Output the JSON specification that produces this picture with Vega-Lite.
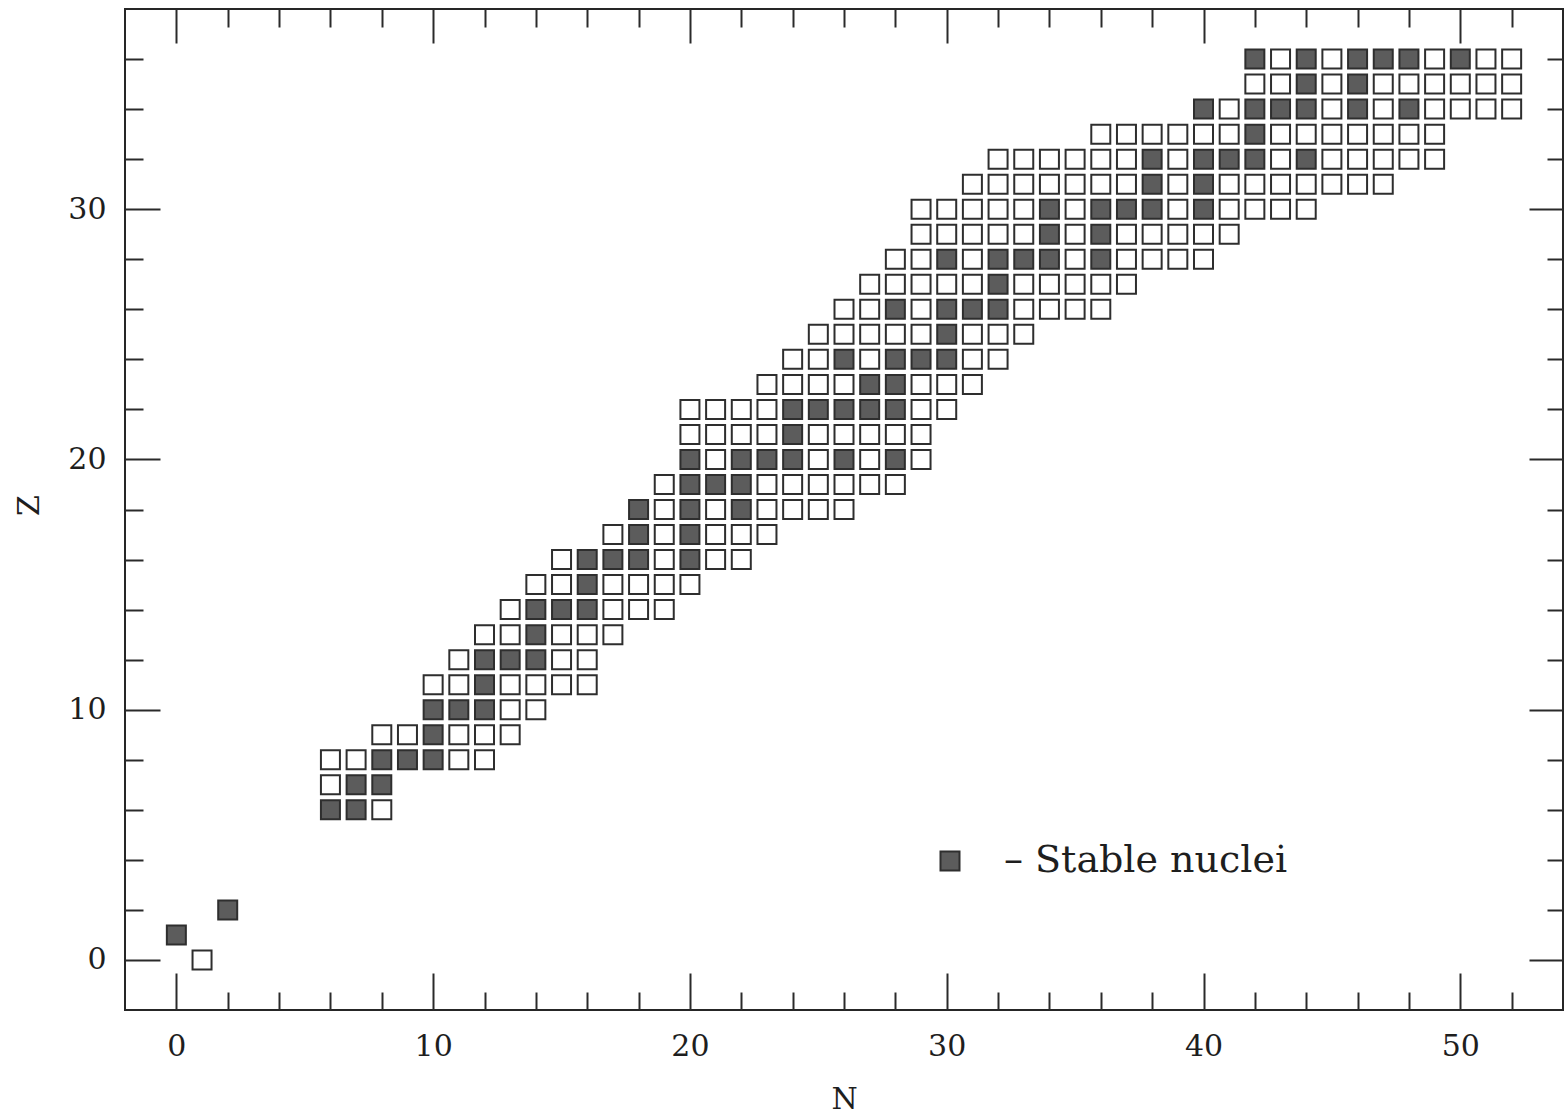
{
  "$schema": "https://vega.github.io/schema/vega-lite/v6.json",
  "width": 1438,
  "height": 1001,
  "autosize": {"type": "none"},
  "padding": {"left": 125, "top": 9, "right": 1, "bottom": 106},
  "background": "white",
  "config": {
    "view": {"stroke": "#262626", "strokeWidth": 2},
    "font": "DejaVu Serif",
    "axis": {"grid": false, "domain": false, "tickColor": "#2a2a2a", "tickWidth": 2, "labelColor": "#1e1e1e", "titleColor": "#1e1e1e", "labelFont": "DejaVu Serif", "titleFont": "DejaVu Serif", "labelFontSize": 30, "titleFontSize": 30, "titleFontWeight": "normal", "labelOverlap": false, "labelFlush": false}
  },
  "data": {
    "values": [
      {"N": 1, "Z": 0, "stable": "no"},
      {"N": 0, "Z": 1, "stable": "yes"},
      {"N": 2, "Z": 2, "stable": "yes"},
      {"N": 6, "Z": 6, "stable": "yes"}, {"N": 7, "Z": 6, "stable": "yes"}, {"N": 8, "Z": 6, "stable": "no"},
      {"N": 6, "Z": 7, "stable": "no"}, {"N": 7, "Z": 7, "stable": "yes"}, {"N": 8, "Z": 7, "stable": "yes"},
      {"N": 6, "Z": 8, "stable": "no"}, {"N": 7, "Z": 8, "stable": "no"}, {"N": 8, "Z": 8, "stable": "yes"}, {"N": 9, "Z": 8, "stable": "yes"}, {"N": 10, "Z": 8, "stable": "yes"}, {"N": 11, "Z": 8, "stable": "no"}, {"N": 12, "Z": 8, "stable": "no"},
      {"N": 8, "Z": 9, "stable": "no"}, {"N": 9, "Z": 9, "stable": "no"}, {"N": 10, "Z": 9, "stable": "yes"}, {"N": 11, "Z": 9, "stable": "no"}, {"N": 12, "Z": 9, "stable": "no"}, {"N": 13, "Z": 9, "stable": "no"},
      {"N": 10, "Z": 10, "stable": "yes"}, {"N": 11, "Z": 10, "stable": "yes"}, {"N": 12, "Z": 10, "stable": "yes"}, {"N": 13, "Z": 10, "stable": "no"}, {"N": 14, "Z": 10, "stable": "no"},
      {"N": 10, "Z": 11, "stable": "no"}, {"N": 11, "Z": 11, "stable": "no"}, {"N": 12, "Z": 11, "stable": "yes"}, {"N": 13, "Z": 11, "stable": "no"}, {"N": 14, "Z": 11, "stable": "no"}, {"N": 15, "Z": 11, "stable": "no"}, {"N": 16, "Z": 11, "stable": "no"},
      {"N": 11, "Z": 12, "stable": "no"}, {"N": 12, "Z": 12, "stable": "yes"}, {"N": 13, "Z": 12, "stable": "yes"}, {"N": 14, "Z": 12, "stable": "yes"}, {"N": 15, "Z": 12, "stable": "no"}, {"N": 16, "Z": 12, "stable": "no"},
      {"N": 12, "Z": 13, "stable": "no"}, {"N": 13, "Z": 13, "stable": "no"}, {"N": 14, "Z": 13, "stable": "yes"}, {"N": 15, "Z": 13, "stable": "no"}, {"N": 16, "Z": 13, "stable": "no"}, {"N": 17, "Z": 13, "stable": "no"},
      {"N": 13, "Z": 14, "stable": "no"}, {"N": 14, "Z": 14, "stable": "yes"}, {"N": 15, "Z": 14, "stable": "yes"}, {"N": 16, "Z": 14, "stable": "yes"}, {"N": 17, "Z": 14, "stable": "no"}, {"N": 18, "Z": 14, "stable": "no"}, {"N": 19, "Z": 14, "stable": "no"},
      {"N": 14, "Z": 15, "stable": "no"}, {"N": 15, "Z": 15, "stable": "no"}, {"N": 16, "Z": 15, "stable": "yes"}, {"N": 17, "Z": 15, "stable": "no"}, {"N": 18, "Z": 15, "stable": "no"}, {"N": 19, "Z": 15, "stable": "no"}, {"N": 20, "Z": 15, "stable": "no"},
      {"N": 15, "Z": 16, "stable": "no"}, {"N": 16, "Z": 16, "stable": "yes"}, {"N": 17, "Z": 16, "stable": "yes"}, {"N": 18, "Z": 16, "stable": "yes"}, {"N": 19, "Z": 16, "stable": "no"}, {"N": 20, "Z": 16, "stable": "yes"}, {"N": 21, "Z": 16, "stable": "no"}, {"N": 22, "Z": 16, "stable": "no"},
      {"N": 17, "Z": 17, "stable": "no"}, {"N": 18, "Z": 17, "stable": "yes"}, {"N": 19, "Z": 17, "stable": "no"}, {"N": 20, "Z": 17, "stable": "yes"}, {"N": 21, "Z": 17, "stable": "no"}, {"N": 22, "Z": 17, "stable": "no"}, {"N": 23, "Z": 17, "stable": "no"},
      {"N": 18, "Z": 18, "stable": "yes"}, {"N": 19, "Z": 18, "stable": "no"}, {"N": 20, "Z": 18, "stable": "yes"}, {"N": 21, "Z": 18, "stable": "no"}, {"N": 22, "Z": 18, "stable": "yes"}, {"N": 23, "Z": 18, "stable": "no"}, {"N": 24, "Z": 18, "stable": "no"}, {"N": 25, "Z": 18, "stable": "no"}, {"N": 26, "Z": 18, "stable": "no"},
      {"N": 19, "Z": 19, "stable": "no"}, {"N": 20, "Z": 19, "stable": "yes"}, {"N": 21, "Z": 19, "stable": "yes"}, {"N": 22, "Z": 19, "stable": "yes"}, {"N": 23, "Z": 19, "stable": "no"}, {"N": 24, "Z": 19, "stable": "no"}, {"N": 25, "Z": 19, "stable": "no"}, {"N": 26, "Z": 19, "stable": "no"}, {"N": 27, "Z": 19, "stable": "no"}, {"N": 28, "Z": 19, "stable": "no"},
      {"N": 20, "Z": 20, "stable": "yes"}, {"N": 21, "Z": 20, "stable": "no"}, {"N": 22, "Z": 20, "stable": "yes"}, {"N": 23, "Z": 20, "stable": "yes"}, {"N": 24, "Z": 20, "stable": "yes"}, {"N": 25, "Z": 20, "stable": "no"}, {"N": 26, "Z": 20, "stable": "yes"}, {"N": 27, "Z": 20, "stable": "no"}, {"N": 28, "Z": 20, "stable": "yes"}, {"N": 29, "Z": 20, "stable": "no"},
      {"N": 20, "Z": 21, "stable": "no"}, {"N": 21, "Z": 21, "stable": "no"}, {"N": 22, "Z": 21, "stable": "no"}, {"N": 23, "Z": 21, "stable": "no"}, {"N": 24, "Z": 21, "stable": "yes"}, {"N": 25, "Z": 21, "stable": "no"}, {"N": 26, "Z": 21, "stable": "no"}, {"N": 27, "Z": 21, "stable": "no"}, {"N": 28, "Z": 21, "stable": "no"}, {"N": 29, "Z": 21, "stable": "no"},
      {"N": 20, "Z": 22, "stable": "no"}, {"N": 21, "Z": 22, "stable": "no"}, {"N": 22, "Z": 22, "stable": "no"}, {"N": 23, "Z": 22, "stable": "no"}, {"N": 24, "Z": 22, "stable": "yes"}, {"N": 25, "Z": 22, "stable": "yes"}, {"N": 26, "Z": 22, "stable": "yes"}, {"N": 27, "Z": 22, "stable": "yes"}, {"N": 28, "Z": 22, "stable": "yes"}, {"N": 29, "Z": 22, "stable": "no"}, {"N": 30, "Z": 22, "stable": "no"},
      {"N": 23, "Z": 23, "stable": "no"}, {"N": 24, "Z": 23, "stable": "no"}, {"N": 25, "Z": 23, "stable": "no"}, {"N": 26, "Z": 23, "stable": "no"}, {"N": 27, "Z": 23, "stable": "yes"}, {"N": 28, "Z": 23, "stable": "yes"}, {"N": 29, "Z": 23, "stable": "no"}, {"N": 30, "Z": 23, "stable": "no"}, {"N": 31, "Z": 23, "stable": "no"},
      {"N": 24, "Z": 24, "stable": "no"}, {"N": 25, "Z": 24, "stable": "no"}, {"N": 26, "Z": 24, "stable": "yes"}, {"N": 27, "Z": 24, "stable": "no"}, {"N": 28, "Z": 24, "stable": "yes"}, {"N": 29, "Z": 24, "stable": "yes"}, {"N": 30, "Z": 24, "stable": "yes"}, {"N": 31, "Z": 24, "stable": "no"}, {"N": 32, "Z": 24, "stable": "no"},
      {"N": 25, "Z": 25, "stable": "no"}, {"N": 26, "Z": 25, "stable": "no"}, {"N": 27, "Z": 25, "stable": "no"}, {"N": 28, "Z": 25, "stable": "no"}, {"N": 29, "Z": 25, "stable": "no"}, {"N": 30, "Z": 25, "stable": "yes"}, {"N": 31, "Z": 25, "stable": "no"}, {"N": 32, "Z": 25, "stable": "no"}, {"N": 33, "Z": 25, "stable": "no"},
      {"N": 26, "Z": 26, "stable": "no"}, {"N": 27, "Z": 26, "stable": "no"}, {"N": 28, "Z": 26, "stable": "yes"}, {"N": 29, "Z": 26, "stable": "no"}, {"N": 30, "Z": 26, "stable": "yes"}, {"N": 31, "Z": 26, "stable": "yes"}, {"N": 32, "Z": 26, "stable": "yes"}, {"N": 33, "Z": 26, "stable": "no"}, {"N": 34, "Z": 26, "stable": "no"}, {"N": 35, "Z": 26, "stable": "no"}, {"N": 36, "Z": 26, "stable": "no"},
      {"N": 27, "Z": 27, "stable": "no"}, {"N": 28, "Z": 27, "stable": "no"}, {"N": 29, "Z": 27, "stable": "no"}, {"N": 30, "Z": 27, "stable": "no"}, {"N": 31, "Z": 27, "stable": "no"}, {"N": 32, "Z": 27, "stable": "yes"}, {"N": 33, "Z": 27, "stable": "no"}, {"N": 34, "Z": 27, "stable": "no"}, {"N": 35, "Z": 27, "stable": "no"}, {"N": 36, "Z": 27, "stable": "no"}, {"N": 37, "Z": 27, "stable": "no"},
      {"N": 28, "Z": 28, "stable": "no"}, {"N": 29, "Z": 28, "stable": "no"}, {"N": 30, "Z": 28, "stable": "yes"}, {"N": 31, "Z": 28, "stable": "no"}, {"N": 32, "Z": 28, "stable": "yes"}, {"N": 33, "Z": 28, "stable": "yes"}, {"N": 34, "Z": 28, "stable": "yes"}, {"N": 35, "Z": 28, "stable": "no"}, {"N": 36, "Z": 28, "stable": "yes"}, {"N": 37, "Z": 28, "stable": "no"}, {"N": 38, "Z": 28, "stable": "no"}, {"N": 39, "Z": 28, "stable": "no"}, {"N": 40, "Z": 28, "stable": "no"},
      {"N": 29, "Z": 29, "stable": "no"}, {"N": 30, "Z": 29, "stable": "no"}, {"N": 31, "Z": 29, "stable": "no"}, {"N": 32, "Z": 29, "stable": "no"}, {"N": 33, "Z": 29, "stable": "no"}, {"N": 34, "Z": 29, "stable": "yes"}, {"N": 35, "Z": 29, "stable": "no"}, {"N": 36, "Z": 29, "stable": "yes"}, {"N": 37, "Z": 29, "stable": "no"}, {"N": 38, "Z": 29, "stable": "no"}, {"N": 39, "Z": 29, "stable": "no"}, {"N": 40, "Z": 29, "stable": "no"}, {"N": 41, "Z": 29, "stable": "no"},
      {"N": 29, "Z": 30, "stable": "no"}, {"N": 30, "Z": 30, "stable": "no"}, {"N": 31, "Z": 30, "stable": "no"}, {"N": 32, "Z": 30, "stable": "no"}, {"N": 33, "Z": 30, "stable": "no"}, {"N": 34, "Z": 30, "stable": "yes"}, {"N": 35, "Z": 30, "stable": "no"}, {"N": 36, "Z": 30, "stable": "yes"}, {"N": 37, "Z": 30, "stable": "yes"}, {"N": 38, "Z": 30, "stable": "yes"}, {"N": 39, "Z": 30, "stable": "no"}, {"N": 40, "Z": 30, "stable": "yes"}, {"N": 41, "Z": 30, "stable": "no"}, {"N": 42, "Z": 30, "stable": "no"}, {"N": 43, "Z": 30, "stable": "no"}, {"N": 44, "Z": 30, "stable": "no"},
      {"N": 31, "Z": 31, "stable": "no"}, {"N": 32, "Z": 31, "stable": "no"}, {"N": 33, "Z": 31, "stable": "no"}, {"N": 34, "Z": 31, "stable": "no"}, {"N": 35, "Z": 31, "stable": "no"}, {"N": 36, "Z": 31, "stable": "no"}, {"N": 37, "Z": 31, "stable": "no"}, {"N": 38, "Z": 31, "stable": "yes"}, {"N": 39, "Z": 31, "stable": "no"}, {"N": 40, "Z": 31, "stable": "yes"}, {"N": 41, "Z": 31, "stable": "no"}, {"N": 42, "Z": 31, "stable": "no"}, {"N": 43, "Z": 31, "stable": "no"}, {"N": 44, "Z": 31, "stable": "no"}, {"N": 45, "Z": 31, "stable": "no"}, {"N": 46, "Z": 31, "stable": "no"}, {"N": 47, "Z": 31, "stable": "no"},
      {"N": 32, "Z": 32, "stable": "no"}, {"N": 33, "Z": 32, "stable": "no"}, {"N": 34, "Z": 32, "stable": "no"}, {"N": 35, "Z": 32, "stable": "no"}, {"N": 36, "Z": 32, "stable": "no"}, {"N": 37, "Z": 32, "stable": "no"}, {"N": 38, "Z": 32, "stable": "yes"}, {"N": 39, "Z": 32, "stable": "no"}, {"N": 40, "Z": 32, "stable": "yes"}, {"N": 41, "Z": 32, "stable": "yes"}, {"N": 42, "Z": 32, "stable": "yes"}, {"N": 43, "Z": 32, "stable": "no"}, {"N": 44, "Z": 32, "stable": "yes"}, {"N": 45, "Z": 32, "stable": "no"}, {"N": 46, "Z": 32, "stable": "no"}, {"N": 47, "Z": 32, "stable": "no"}, {"N": 48, "Z": 32, "stable": "no"}, {"N": 49, "Z": 32, "stable": "no"},
      {"N": 36, "Z": 33, "stable": "no"}, {"N": 37, "Z": 33, "stable": "no"}, {"N": 38, "Z": 33, "stable": "no"}, {"N": 39, "Z": 33, "stable": "no"}, {"N": 40, "Z": 33, "stable": "no"}, {"N": 41, "Z": 33, "stable": "no"}, {"N": 42, "Z": 33, "stable": "yes"}, {"N": 43, "Z": 33, "stable": "no"}, {"N": 44, "Z": 33, "stable": "no"}, {"N": 45, "Z": 33, "stable": "no"}, {"N": 46, "Z": 33, "stable": "no"}, {"N": 47, "Z": 33, "stable": "no"}, {"N": 48, "Z": 33, "stable": "no"}, {"N": 49, "Z": 33, "stable": "no"},
      {"N": 40, "Z": 34, "stable": "yes"}, {"N": 41, "Z": 34, "stable": "no"}, {"N": 42, "Z": 34, "stable": "yes"}, {"N": 43, "Z": 34, "stable": "yes"}, {"N": 44, "Z": 34, "stable": "yes"}, {"N": 45, "Z": 34, "stable": "no"}, {"N": 46, "Z": 34, "stable": "yes"}, {"N": 47, "Z": 34, "stable": "no"}, {"N": 48, "Z": 34, "stable": "yes"}, {"N": 49, "Z": 34, "stable": "no"}, {"N": 50, "Z": 34, "stable": "no"}, {"N": 51, "Z": 34, "stable": "no"}, {"N": 52, "Z": 34, "stable": "no"},
      {"N": 42, "Z": 35, "stable": "no"}, {"N": 43, "Z": 35, "stable": "no"}, {"N": 44, "Z": 35, "stable": "yes"}, {"N": 45, "Z": 35, "stable": "no"}, {"N": 46, "Z": 35, "stable": "yes"}, {"N": 47, "Z": 35, "stable": "no"}, {"N": 48, "Z": 35, "stable": "no"}, {"N": 49, "Z": 35, "stable": "no"}, {"N": 50, "Z": 35, "stable": "no"}, {"N": 51, "Z": 35, "stable": "no"}, {"N": 52, "Z": 35, "stable": "no"},
      {"N": 42, "Z": 36, "stable": "yes"}, {"N": 43, "Z": 36, "stable": "no"}, {"N": 44, "Z": 36, "stable": "yes"}, {"N": 45, "Z": 36, "stable": "no"}, {"N": 46, "Z": 36, "stable": "yes"}, {"N": 47, "Z": 36, "stable": "yes"}, {"N": 48, "Z": 36, "stable": "yes"}, {"N": 49, "Z": 36, "stable": "no"}, {"N": 50, "Z": 36, "stable": "yes"}, {"N": 51, "Z": 36, "stable": "no"}, {"N": 52, "Z": 36, "stable": "no"}
    ]
  },
  "resolve": {"axis": {"x": "independent", "y": "independent"}},
  "layer": [
    {
      "mark": {"type": "square", "size": 361, "stroke": "#2e2e2e", "strokeWidth": 2, "opacity": 1},
      "encoding": {
        "x": {
          "field": "N", "type": "quantitative",
          "scale": {"domain": [-2, 54], "nice": false, "zero": false},
          "axis": {
            "orient": "bottom", "title": "N",
            "values": [0, 2, 4, 6, 8, 10, 12, 14, 16, 18, 20, 22, 24, 26, 28, 30, 32, 34, 36, 38, 40, 42, 44, 46, 48, 50, 52],
            "labelExpr": "datum.value % 10 === 0 ? datum.label : ''",
            "tickSize": {"condition": {"test": "datum.value % 10 === 0", "value": -37}, "value": -18},
            "labelPadding": 58,
            "titleX": 719, "titleY": 98, "titleBaseline": "alphabetic", "titleAlign": "center", "titleAnchor": null
          }
        },
        "y": {
          "field": "Z", "type": "quantitative",
          "scale": {"domain": [-2, 38], "nice": false, "zero": false},
          "axis": {
            "orient": "left", "title": "Z",
            "values": [0, 2, 4, 6, 8, 10, 12, 14, 16, 18, 20, 22, 24, 26, 28, 30, 32, 34, 36],
            "labelExpr": "datum.value % 10 === 0 ? datum.label : ''",
            "tickSize": {"condition": {"test": "datum.value % 10 === 0", "value": -35}, "value": -18},
            "labelPadding": 54,
            "titleX": -87, "titleY": 496, "titleAngle": 270, "titleBaseline": "alphabetic", "titleAlign": "center", "titleAnchor": null
          }
        },
        "fill": {
          "field": "stable", "type": "nominal",
          "scale": {"domain": ["yes", "no"], "range": ["#5c5c5c", "#ffffff"]},
          "legend": {
            "orient": "none", "legendX": 806, "legendY": 833, "title": null,
            "values": ["yes"], "labelExpr": "'–  Stable nuclei'",
            "symbolType": "square", "symbolSize": 361, "symbolStrokeColor": "#2e2e2e", "symbolStrokeWidth": 2, "symbolOpacity": 1,
            "labelFont": "DejaVu Serif", "labelFontSize": 38, "labelColor": "#1e1e1e", "labelOffset": 35, "labelLimit": 0, "padding": 0
          }
        }
      }
    },
    {
      "mark": {"type": "square", "size": 361, "opacity": 0},
      "encoding": {
        "x": {
          "field": "N", "type": "quantitative",
          "scale": {"domain": [-2, 54], "nice": false, "zero": false},
          "axis": {
            "orient": "top", "title": null, "labels": false,
            "values": [0, 2, 4, 6, 8, 10, 12, 14, 16, 18, 20, 22, 24, 26, 28, 30, 32, 34, 36, 38, 40, 42, 44, 46, 48, 50, 52],
            "tickSize": {"condition": {"test": "datum.value % 10 === 0", "value": -34}, "value": -18}
          }
        },
        "y": {
          "field": "Z", "type": "quantitative",
          "scale": {"domain": [-2, 38], "nice": false, "zero": false},
          "axis": {
            "orient": "right", "title": null, "labels": false,
            "values": [0, 2, 4, 6, 8, 10, 12, 14, 16, 18, 20, 22, 24, 26, 28, 30, 32, 34, 36],
            "tickSize": {"condition": {"test": "datum.value % 10 === 0", "value": -34}, "value": -16}
          }
        }
      }
    }
  ]
}
